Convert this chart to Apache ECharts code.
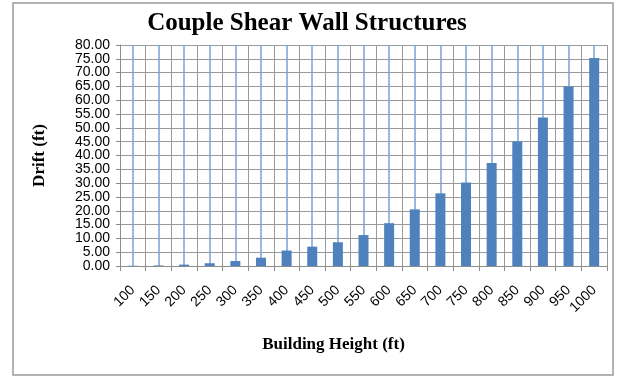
<!DOCTYPE html>
<html>
<head>
<meta charset="utf-8">
<script src="https://cdn.jsdelivr.net/npm/echarts@6/dist/echarts.min.js"></script>
<style>
html,body{margin:0;padding:0;background:#fff;}
#chart{width:622px;height:377px;}
</style>
</head>
<body>
<div id="chart"></div>
<script>
var categories = ['100','150','200','250','300','350','400','450','500','550','600','650','700','750','800','850','900','950','1000'];
var drift = [0.1, 0.2, 0.5, 1.0, 1.8, 3.0, 5.6, 7.0, 8.6, 11.2, 15.5, 20.5, 26.3, 30.2, 37.3, 45.1, 53.8, 65.0, 75.3];
var titleText = 'Couple Shear Wall Structures';
var xName = 'Building Height (ft)';
var yName = 'Drift (ft)';

var chart = echarts.init(document.getElementById('chart'), null, {renderer: 'canvas'});
chart.setOption({
  animation: false,
  backgroundColor: '#fff',
  title: {
    text: titleText,
    left: 302, top: 6, textAlign: 'center',
    textStyle: {fontFamily: 'Liberation Serif', fontWeight: 'bold', fontSize: 25, color: '#000'}
  },
  graphic: [{
    type: 'rect', silent: true, z: -10,
    shape: {x: 13, y: 3, width: 600, height: 372},
    style: {fill: 'none', stroke: '#9a9a9a', lineWidth: 1.5}
  }],
  grid: {left: 120, right: 15, top: 45, bottom: 111},
  xAxis: {
    type: 'category',
    data: categories,
    name: xName,
    nameLocation: 'middle',
    nameGap: 70,
    nameTextStyle: {fontFamily: 'Liberation Serif', fontWeight: 'bold', fontSize: 17, color: '#000', padding: [0, 60, 0, 0]},
    axisLine: {lineStyle: {color: '#8c8c8c', width: 1}},
    axisTick: {show: true, length: 5, lineStyle: {color: '#8c8c8c'}},
    axisLabel: {interval: 0, rotate: 45, margin: 22, fontFamily: 'Liberation Sans', fontSize: 14, color: '#000'},
    splitLine: {show: true, interval: 0, lineStyle: {color: '#9a9a9a', width: 1}}
  },
  yAxis: {
    type: 'value',
    min: 0, max: 80, interval: 5,
    name: yName,
    nameLocation: 'middle',
    nameGap: 72,
    nameTextStyle: {fontFamily: 'Liberation Serif', fontWeight: 'bold', fontSize: 17, color: '#000'},
    axisLine: {show: true, lineStyle: {color: '#8c8c8c', width: 1}},
    axisTick: {show: true, length: 4, lineStyle: {color: '#8c8c8c'}},
    axisLabel: {margin: 10, fontFamily: 'Liberation Sans', fontSize: 14, color: '#000',
      formatter: function (v) { return v.toFixed(2); }},
    splitLine: {show: true, lineStyle: {color: '#9a9a9a', width: 1}}
  },
  series: [
    {
      type: 'line', data: [], z: 1, silent: true,
      markLine: {
        z: 1,
        silent: true, symbol: 'none', animation: false,
        label: {show: false},
        lineStyle: {type: 'solid', color: '#7aa3d9', width: 1.5},
        data: categories.map(function (c, i) { return {xAxis: i}; })
      }
    },
    {
      type: 'bar', data: drift, z: 3, barWidth: 10,
      itemStyle: {color: '#4f81bd'}
    }
  ]
});
</script>
</body>
</html>
